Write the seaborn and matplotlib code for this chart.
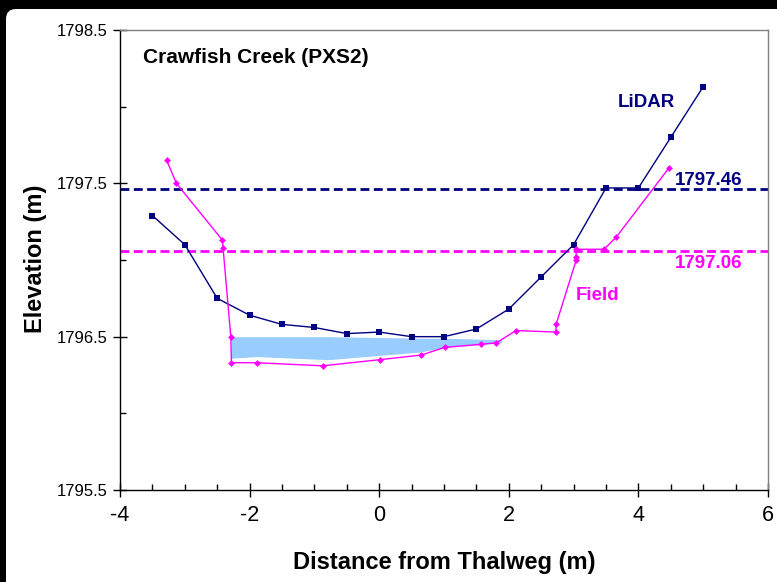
import matplotlib
matplotlib.use("Agg")
import matplotlib.pyplot as plt
import seaborn as sns
from matplotlib.patches import FancyBboxPatch
from matplotlib.transforms import IdentityTransform
from matplotlib.ticker import MultipleLocator, FormatStrFormatter

# Dados
lidar_x = [-3.5, -3.0, -2.5, -2.0, -1.5, -1.0, -0.5, 0.0, 0.5, 1.0,
           1.5, 2.0, 2.5, 3.0, 3.5, 4.0, 4.5, 5.0]
lidar_y = [1797.29, 1797.10, 1796.75, 1796.64, 1796.58, 1796.56, 1796.52, 1796.53, 1796.50, 1796.50,
           1796.55, 1796.68, 1796.89, 1797.10, 1797.47, 1797.47, 1797.80, 1798.13]

field_x = [-3.28, -3.13, -2.42, -2.41, -2.29, -2.28, -1.89, -0.87, 0.01, 0.65, 1.01,
           1.57, 1.81, 2.11, 2.73, 2.73, 3.04, 3.04, 3.04, 3.47, 3.66, 4.47]
field_y = [1797.65, 1797.50, 1797.13, 1797.08, 1796.50, 1796.33, 1796.33, 1796.31, 1796.35, 1796.38, 1796.43,
           1796.45, 1796.46, 1796.54, 1796.53, 1796.58, 1797.00, 1797.02, 1797.07, 1797.07, 1797.15, 1797.60]

water_x = [-2.28, -1.89, -0.79, 0.63, 1.02, 1.89]
water_top = [1796.50, 1796.50, 1796.50, 1796.49, 1796.49, 1796.48]
water_bottom = [1796.36, 1796.37, 1796.35, 1796.40, 1796.43, 1796.46]

lidar_wse = 1797.46
field_wse = 1797.06

NAVY = "#000080"
MAGENTA = "#FF00FF"
WATER = "#99CCFF"

sns.set_style("white")
plt.rcParams['font.family'] = ['Liberation Sans', 'DejaVu Sans']
plt.rcParams['text.color'] = 'black'
plt.rcParams['axes.labelcolor'] = 'black'
plt.rcParams['xtick.color'] = 'black'
plt.rcParams['ytick.color'] = 'black'

fig = plt.figure(figsize=(7.77, 5.82), dpi=100, facecolor="black")
# painel branco com canto arredondado (moldura preta em cima e à esquerda)
fig.add_artist(FancyBboxPatch((6, -40), 820, 582 - 9 + 40,
                              boxstyle="round,pad=0,rounding_size=10",
                              transform=IdentityTransform(),
                              facecolor="white", edgecolor="none", zorder=-10))

ax = fig.add_axes([120 / 777, 92 / 582, 648 / 777, 460 / 582])
ax.set_facecolor("white")

# área da água
ax.fill_between(water_x, water_bottom, water_top, color=WATER, lw=0, zorder=1)

# níveis de água
ax.axhline(lidar_wse, color=NAVY, lw=2, ls=(0, (3.2, 1.6)), zorder=2)
ax.axhline(field_wse, color=MAGENTA, lw=2, ls=(0, (3.2, 1.6)), zorder=2)

# perfis
sns.lineplot(x=lidar_x, y=lidar_y, ax=ax, estimator=None, sort=False, color=NAVY,
             lw=1, marker='s', markersize=4, markeredgewidth=0, zorder=3)
sns.lineplot(x=field_x, y=field_y, ax=ax, estimator=None, sort=False, color=MAGENTA,
             lw=1, marker='D', markersize=3.5, markeredgewidth=0, zorder=3)

ax.set_xlim(-4, 6)
ax.set_ylim(1795.5, 1798.5)
ax.xaxis.set_major_locator(MultipleLocator(2))
ax.xaxis.set_minor_locator(MultipleLocator(0.5))
ax.yaxis.set_major_locator(MultipleLocator(1, offset=0.5))
ax.yaxis.set_minor_locator(MultipleLocator(0.5))
ax.yaxis.set_major_formatter(FormatStrFormatter('%.1f'))
ax.xaxis.set_major_formatter(FormatStrFormatter('%d'))

ax.tick_params(axis='both', which='both', bottom=True, left=True, top=False, right=False)
ax.tick_params(axis='both', which='major', direction='inout', length=10, width=1, color='black')
ax.tick_params(axis='both', which='minor', direction='in', length=4, width=1, color='black')
ax.tick_params(axis='x', which='major', labelsize=15.5, pad=6)
ax.tick_params(axis='y', which='major', labelsize=12, pad=4)

for side in ['left', 'bottom']:
    ax.spines[side].set_color('black')
    ax.spines[side].set_linewidth(1)
for side in ['top', 'right']:
    ax.spines[side].set_color('#808080')
    ax.spines[side].set_linewidth(1)

# textos
ax.text(-3.65, 1798.32, "Crawfish Creek (PXS2)", fontsize=15, fontweight='bold',
        ha='left', va='center')
ax.text(4.13, 1798.03, "LiDAR", color=NAVY, fontsize=13.5, fontweight='bold',
        ha='center', va='center')
ax.text(5.09, 1797.52, "1797.46", color=NAVY, fontsize=13.5, fontweight='bold',
        ha='center', va='center')
ax.text(5.09, 1796.98, "1797.06", color=MAGENTA, fontsize=13.5, fontweight='bold',
        ha='center', va='center')
ax.text(3.37, 1796.77, "Field", color=MAGENTA, fontsize=13.5, fontweight='bold',
        ha='center', va='center')

ax.set_xlabel("Distance from Thalweg (m)", fontsize=17, fontweight='bold')
ax.set_ylabel("Elevation (m)", fontsize=17, fontweight='bold')
ax.xaxis.set_label_coords(0.5, -0.132)
ax.yaxis.set_label_coords(-0.113, 0.502)

fig.savefig("out.png", dpi=100, facecolor=fig.get_facecolor())
